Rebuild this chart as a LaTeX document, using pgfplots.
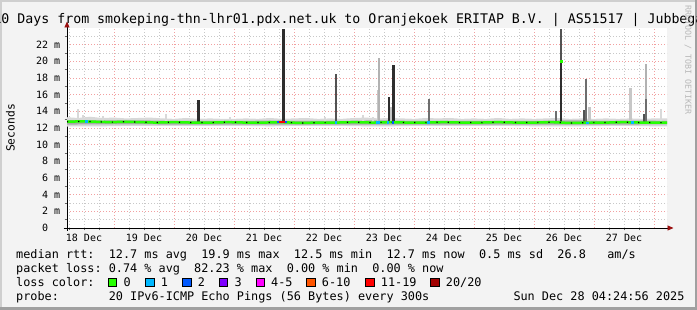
\documentclass[border=0pt]{standalone}
\usepackage{fontspec}
\setmainfont{DejaVu Sans Mono}
\usepackage{pgfplots}
\usepackage{pgfplotstable}
\pgfplotsset{compat=1.18}
\usetikzlibrary{arrows.meta}
\definecolor{bg}{HTML}{F3F3F3}
\definecolor{shadeA}{HTML}{CFCFCF}
\definecolor{shadeB}{HTML}{A0A0A0}
\definecolor{gridred}{HTML}{F2A0A0}
\definecolor{gridgray}{HTML}{C8C8C8}
\definecolor{arrowred}{HTML}{9A1010}
\definecolor{wm}{HTML}{B8B8B8}
\definecolor{smokeL}{HTML}{D8D8D8}
\definecolor{smokeM}{HTML}{A8A8A8}
\definecolor{loss0}{HTML}{26FF00}
\definecolor{loss1}{HTML}{00B8FF}
\definecolor{loss2}{HTML}{0059FF}
\definecolor{loss3}{HTML}{7E00FF}
\definecolor{loss45}{HTML}{FF00FF}
\definecolor{loss610}{HTML}{FF5500}
\definecolor{loss1119}{HTML}{FF0000}
\definecolor{loss20}{HTML}{A10000}

\pgfplotstableread{
x y
0.2167 12.75
0.45 12.80
0.70 12.75
0.95 12.70
1.20 12.75
1.45 12.70
1.70 12.65
2.00 12.70
2.30 12.65
2.60 12.65
2.90 12.70
3.20 12.65
3.50 12.65
3.80 12.70
4.10 12.60
4.40 12.65
4.70 12.65
5.00 12.70
5.30 12.65
5.60 12.70
5.90 12.65
6.20 12.65
6.50 12.70
6.80 12.65
7.10 12.65
7.40 12.70
7.70 12.65
8.00 12.65
8.30 12.70
8.60 12.60
8.90 12.65
9.20 12.65
9.50 12.70
9.80 12.65
10.2167 12.65
}\median

% spikes as vertical segments (x, y), separated by nan
\pgfplotstableread{
x y
10.117 12.7
10.117 14.3
nan nan
0.400 12.7
0.400 14.3
nan nan
0.483 12.7
0.483 13.5
nan nan
0.817 12.7
0.817 13.4
nan nan
1.867 12.7
1.867 13.7
nan nan
2.933 12.7
2.933 13.3
nan nan
4.517 12.7
4.517 13.3
nan nan
5.145 12.7
5.145 13.6
nan nan
5.317 12.7
5.317 13.3
nan nan
8.367 12.7
8.367 13.6
}\spkA
\pgfplotstableread{
x y
5.400 12.7
5.400 16.6
nan nan
5.617 12.7
5.617 14.5
nan nan
8.917 12.7
8.917 14.5
nan nan
9.612 12.7
9.612 16.8
}\spkB
\pgfplotstableread{
x y
5.417 12.7
5.417 20.4
nan nan
9.867 12.7
9.867 19.7
}\spkC
\pgfplotstableread{
x y
9.867 12.7
9.867 15.5
nan nan
6.245 12.7
6.245 15.5
nan nan
8.867 12.7
8.867 17.9
nan nan
8.370 12.7
8.370 14.0
}\spkD
\pgfplotstableread{
x y
4.700 12.7
4.700 18.5
nan nan
8.450 20.0
8.450 23.9
nan nan
8.833 12.7
8.833 14.1
nan nan
9.833 12.7
9.833 13.7
}\spkE
\pgfplotstableread{
x y
2.405 12.7
2.405 15.38
nan nan
3.822 12.7
3.822 23.88
nan nan
5.583 12.7
5.583 15.7
nan nan
5.662 12.7
5.662 19.5
nan nan
8.450 12.7
8.450 20.0
}\spkF

\pgfplotstableread{
x y
0.52 12.78
0.56 12.78
nan nan
4.68 12.65
4.72 12.65
nan nan
5.37 12.65
5.43 12.65
nan nan
5.55 12.68
5.58 12.68
nan nan
6.22 12.65
6.26 12.65
nan nan
8.87 12.62
8.91 12.62
nan nan
9.62 12.66
9.66 12.66
}\lossA
\pgfplotstableread{
x y
3.72 12.69
3.75 12.69
nan nan
3.85 12.69
3.89 12.69
nan nan
5.64 12.68
5.67 12.68
}\lossB
\pgfplotstableread{
x y
3.75 12.69
3.85 12.69
}\lossC
\pgfplotstableread{
x y
8.43 20.0
8.48 20.0
}\medspike

\begin{document}\frenchspacing
\begin{tikzpicture}
\useasboundingbox (0pt,0pt) rectangle (697pt,310pt);
\clip (0pt,0pt) rectangle (697pt,310pt);
\fill[bg] (0pt,0pt) rectangle (697pt,310pt);
\fill[shadeA] (0pt,308pt) rectangle (697pt,310pt);
\fill[shadeA] (0pt,0pt) rectangle (2pt,310pt);
\fill[shadeB] (0pt,0pt) rectangle (697pt,3pt);
\fill[shadeB] (694.5pt,0pt) rectangle (697pt,310pt);

\begin{axis}[
  at={(67pt,82pt)}, anchor=south west,
  width=600pt, height=200pt, scale only axis,
  xmin=0.2167, xmax=10.2167, ymin=0, ymax=24,
  axis background/.style={fill=white},
  axis lines=left,
  axis line style={black, line width=0.8pt},
  x axis line style={-{Triangle[length=6pt,width=5pt,color=arrowred]}, shorten >=-6.5pt, shorten <=-3.5pt},
  y axis line style={-{Triangle[length=6pt,width=5pt,color=arrowred]}, shorten >=-6.5pt, shorten <=-3pt},
  xtick={0.5,1.5,2.5,3.5,4.5,5.5,6.5,7.5,8.5,9.5},
  xticklabels={18 Dec,19 Dec,20 Dec,21 Dec,22 Dec,23 Dec,24 Dec,25 Dec,26 Dec,27 Dec},
  minor xtick={0.25,0.5,0.75,1.25,1.5,1.75,2.25,2.5,2.75,3.25,3.5,3.75,4.25,4.5,4.75,5.25,5.5,5.75,6.25,6.5,6.75,7.25,7.5,7.75,8.25,8.5,8.75,9.25,9.5,9.75},
  extra x ticks={1,2,3,4,5,6,7,8,9,10},
  extra x tick labels={},
  extra x tick style={grid=major},
  ytick={0,2,4,6,8,10,12,14,16,18,20,22},
  yticklabels={0\phantom{~m},2~m,4~m,6~m,8~m,10~m,12~m,14~m,16~m,18~m,20~m,22~m},
  minor ytick={1,3,5,7,9,11,13,15,17,19,21,23},
  ymajorgrids, yminorgrids, xminorgrids,
  major grid style={color=gridred, line width=0.8pt, dash pattern=on 1pt off 2pt},
  minor grid style={color=gridgray, line width=0.8pt, dash pattern=on 1pt off 2pt},
  tick align=outside,
  major tick length=0pt, minor tick length=2.5pt,
  tick style={color=black!60, line width=0.6pt},
  /pgf/number format/assume math mode=true,
  xticklabel style={anchor=base, inner sep=0pt, yshift=-13.2pt, font=\fontsize{10}{12}\selectfont},
  yticklabel style={anchor=base east, inner sep=0pt, xshift=-6.7pt, yshift=-3.6pt, font=\fontsize{10}{12}\selectfont},
  unbounded coords=jump,
]
% smoke bands
\addplot[fill=smokeL, draw=none, forget plot] coordinates {
(0.0,13.25)(0.2,13.30)(0.4,13.20)(0.6,13.35)(0.8,13.20)(1.0,13.25)(1.2,13.15)(1.4,13.20)(1.6,13.25)(1.8,13.15)(2.0,13.10)(2.2,13.20)(2.4,13.10)(2.6,13.15)(2.8,13.10)(3.0,13.10)(3.2,13.15)(3.4,13.10)(3.6,13.20)(3.8,13.10)(4.0,13.15)(4.2,13.20)(4.4,13.10)(4.6,13.15)(4.8,13.10)(5.0,13.20)(5.2,13.25)(5.4,13.15)(5.6,13.20)(5.8,13.15)(6.0,13.10)(6.2,13.20)(6.4,13.15)(6.6,13.20)(6.8,13.10)(7.0,13.15)(7.2,13.10)(7.4,13.20)(7.6,13.10)(7.8,13.15)(8.0,13.10)(8.2,13.15)(8.4,13.20)(8.6,13.10)(8.8,13.15)(9.0,13.10)(9.2,13.15)(9.4,13.10)(9.6,13.15)(9.8,13.10)(10.0,13.15)(10.3,13.15)
(10.3,12.20)(10.0,12.20)(9.6,12.25)(9.2,12.25)(8.8,12.20)(8.4,12.20)(8.0,12.20)(7.6,12.25)(7.2,12.25)(6.8,12.25)(6.4,12.25)(6.0,12.25)(5.6,12.20)(5.2,12.20)(4.8,12.25)(4.4,12.25)(4.0,12.25)(3.6,12.20)(3.2,12.25)(2.8,12.25)(2.4,12.25)(2.0,12.25)(1.6,12.25)(1.2,12.25)(0.8,12.20)(0.4,12.20)(0.0,12.15)
} -- cycle;
\addplot[fill=smokeM, draw=none, forget plot] coordinates {
(0.0,12.95)(0.4,12.95)(0.8,12.90)(1.2,12.90)(1.6,12.90)(2.0,12.85)(2.4,12.85)(2.8,12.85)(3.2,12.85)(3.6,12.90)(4.0,12.85)(4.4,12.85)(4.8,12.85)(5.2,12.90)(5.6,12.90)(6.0,12.85)(6.4,12.85)(6.8,12.85)(7.2,12.85)(7.6,12.85)(8.0,12.85)(8.4,12.90)(8.8,12.90)(9.2,12.85)(9.6,12.90)(10.3,12.85)
(10.3,12.45)(9.4,12.40)(8.4,12.40)(7.4,12.40)(6.2,12.40)(5.2,12.40)(4.6,12.40)(3.6,12.40)(3.0,12.40)(2.2,12.40)(1.0,12.45)(0.0,12.40)
} -- cycle;
% spikes
\addplot[black!15, line width=2pt, forget plot] table[x=x,y=y]{\spkA};
\addplot[black!22, line width=3pt, forget plot] table[x=x,y=y]{\spkB};
\addplot[black!30, line width=2pt, forget plot] table[x=x,y=y]{\spkC};
\addplot[black!57, line width=2pt, forget plot] table[x=x,y=y]{\spkD};
\addplot[black!68, line width=2.5pt, forget plot] table[x=x,y=y]{\spkE};
\addplot[black!82, line width=2.5pt, forget plot] table[x=x,y=y]{\spkF};
% median
\addplot[loss0, line width=2.5pt, forget plot] table[x=x,y=y]{\median};
\addplot[black, line width=1.2pt, dash pattern=on 1.2pt off 10pt, forget plot] table[x=x,y=y]{\median};
\addplot[loss0, line width=2.5pt, forget plot] table[x=x,y=y]{\medspike};
\addplot[loss1, line width=2.5pt, forget plot] table[x=x,y=y]{\lossA};
\addplot[loss2, line width=2.5pt, forget plot] table[x=x,y=y]{\lossB};
\addplot[loss1119, line width=2.5pt, forget plot] table[x=x,y=y]{\lossC};
\end{axis}

% title
\node[anchor=base, inner sep=0pt, font=\fontsize{13.25}{15}\selectfont] at (348.5pt,286pt)
  {10 Days from smokeping-thn-lhr01.pdx.net.uk to Oranjekoek ERITAP B.V. | AS51517 | Jubbega};
% watermark
\node[rotate=-90, inner sep=0pt, text=wm, font=\fontsize{8.3}{10}\selectfont] at (688pt,250pt) {RRDTOOL / TOBI OETIKER};
% y label
\node[rotate=90, inner sep=0pt, font=\fontsize{11.3}{13}\selectfont] at (10.5pt,182pt) {Seconds};

% legend
\begin{scope}[every node/.style={anchor=base west, inner sep=0pt, font=\fontsize{11.83}{14}\selectfont}]
\node at (16pt,51.7pt) {median rtt:~~12.7 ms avg~~19.9 ms max~~12.5 ms min~~12.7 ms now~~0.5 ms sd~~26.8~~~am/s};
\node at (16pt,37.7pt) {packet loss: 0.74 \% avg~~82.23 \% max~~0.00 \% min~~0.00 \% now};
\node at (16pt,23.7pt) {loss color:};
\node at (16pt,9.7pt) {probe:~~~~~~~20 IPv6-ICMP Echo Pings (56 Bytes) every 300s};
\node at (513.3pt,9.7pt) {Sun Dec 28 04:24:56 2025};
\foreach \bx/\lab/\col in {108.3/0/loss0,145.7/1/loss1,182.7/2/loss2,219.3/3/loss3,256/4-5/loss45,306.7/6-10/loss610,365.7/11-19/loss1119,430.7/20\slash 20/loss20}{
  \filldraw[fill=\col, draw=black, line width=0.7pt] (\bx pt,23.5pt) rectangle ++(8.3pt,8.3pt);
  \node at ({\bx pt+15pt},23.7pt) {\lab};
}
\end{scope}
\end{tikzpicture}
\end{document}
